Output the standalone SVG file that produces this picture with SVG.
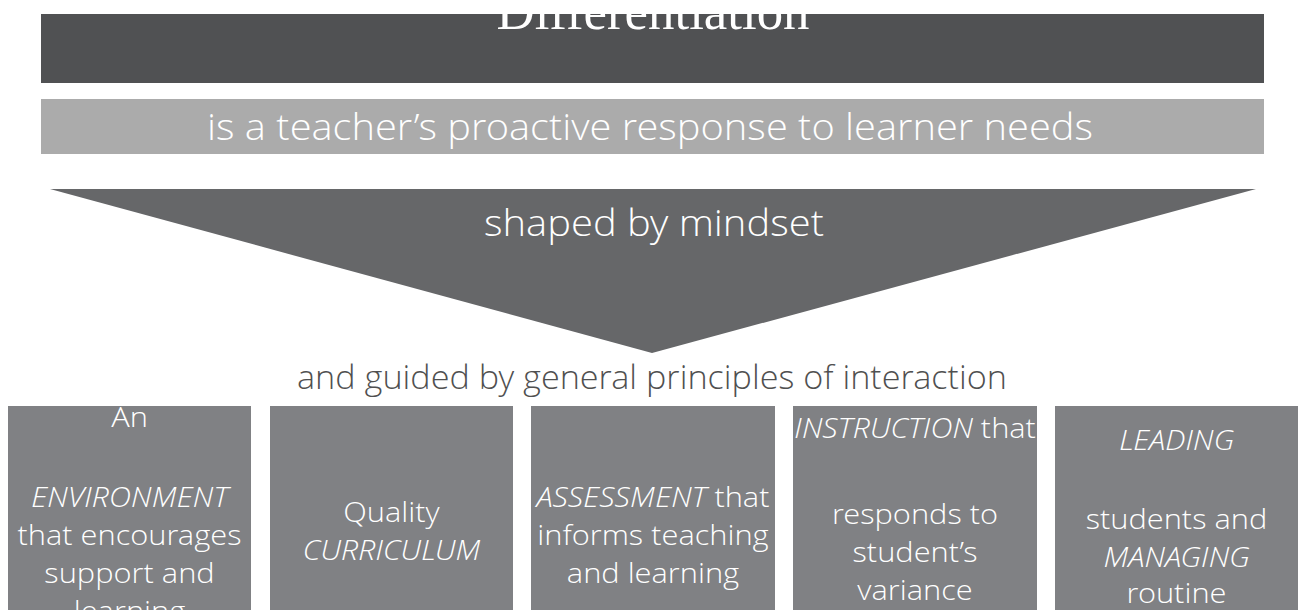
<svg xmlns="http://www.w3.org/2000/svg" width="1302" height="610" viewBox="0 0 1302 610">
<defs>
<style>
.t{font-family:"Open Sans Light","Open Sans","Noto Sans",sans-serif;font-weight:300;fill:#ffffff;text-anchor:middle}
.bx{font-size:28px}
.it{font-style:italic}
.box{fill:#808184}
</style>
<clipPath id="c1"><rect x="41" y="14" width="1223" height="69"/></clipPath>
<clipPath id="cb"><rect x="0" y="406" width="1302" height="204"/></clipPath>
</defs>
<rect width="1302" height="610" fill="#ffffff"/>
<g id="title">
<rect x="41" y="14" width="1223" height="69" fill="#505153"/>
<text x="653" y="29" clip-path="url(#c1)" textLength="313" lengthAdjust="spacingAndGlyphs" style="font-family:'Liberation Serif','DejaVu Serif',serif;font-size:52px;fill:#ffffff;text-anchor:middle">Differentiation</text>
</g>
<g id="definition">
<rect x="41" y="99" width="1223" height="55" fill="#ababab"/>
<text class="t" x="650" y="140" textLength="886" lengthAdjust="spacingAndGlyphs" style="font-size:36px">is a teacher’s proactive response to learner needs</text>
</g>
<g id="mindset">
<polygon points="50,189 1256,189 652,353" fill="#666769"/>
<text class="t" x="654" y="236" textLength="340" lengthAdjust="spacingAndGlyphs" style="font-size:36px">shaped by mindset</text>
</g>
<g id="guided">
<text class="t" x="652" y="389" textLength="710" lengthAdjust="spacingAndGlyphs" style="font-size:33px;fill:#505050">and guided by general principles of interaction</text>
</g>
<g clip-path="url(#cb)">
<g id="box1">
<rect class="box" x="8" y="406" width="243" height="210"/>
<g transform="translate(129.5 0) scale(1.1 1)">
<text class="t bx" x="0" y="427">An</text>
<text class="t bx it" x="0" y="507">ENVIRONMENT</text>
<text class="t bx" x="0" y="545">that encourages</text>
<text class="t bx" x="0" y="583">support and</text>
<text class="t bx" x="0" y="621">learning</text>
</g>
</g>
<g id="box2">
<rect class="box" x="270" y="406" width="243" height="210"/>
<g transform="translate(391.5 0) scale(1.1 1)">
<text class="t bx" x="0" y="522">Quality</text>
<text class="t bx it" x="0" y="560">CURRICULUM</text>
</g>
</g>
<g id="box3">
<rect class="box" x="531" y="406" width="244" height="210"/>
<g transform="translate(653 0) scale(1.1 1)">
<text class="t bx" x="0" y="507"><tspan class="it">ASSESSMENT</tspan> that</text>
<text class="t bx" x="0" y="545">informs teaching</text>
<text class="t bx" x="0" y="583">and learning</text>
</g>
</g>
<g id="box4">
<rect class="box" x="793" y="406" width="244" height="210"/>
<g transform="translate(915 0) scale(1.1 1)">
<text class="t bx" x="0" y="438"><tspan class="it">INSTRUCTION</tspan> that</text>
<text class="t bx" x="0" y="524">responds to</text>
<text class="t bx" x="0" y="562">student’s</text>
<text class="t bx" x="0" y="600">variance</text>
</g>
</g>
<g id="box5">
<rect class="box" x="1055" y="406" width="243" height="210"/>
<g transform="translate(1176.5 0) scale(1.1 1)">
<text class="t bx it" x="0" y="450">LEADING</text>
<text class="t bx" x="0" y="529">students and</text>
<text class="t bx it" x="0" y="567">MANAGING</text>
<text class="t bx" x="0" y="603">routine</text>
</g>
</g>
</g>
<g id="connectors"></g>
</svg>
